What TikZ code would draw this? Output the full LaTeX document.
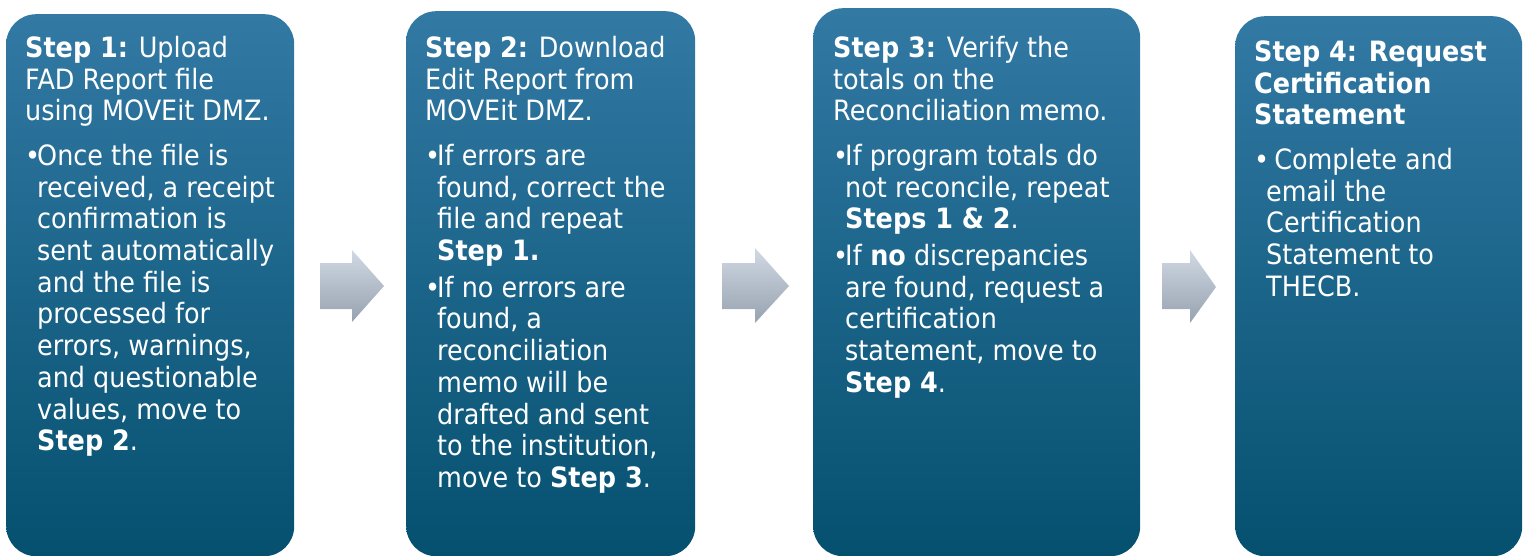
\documentclass[tikz,border=0pt]{standalone}
\usepackage{fontspec}
\setmainfont{DejaVu Sans}[FakeStretch=0.91]
\usetikzlibrary{positioning}
\definecolor{boxtop}{HTML}{3279A4}
\definecolor{boxbot}{HTML}{05506F}
\definecolor{arrtop}{HTML}{D0D9E3}
\definecolor{arrbot}{HTML}{97A2B0}
\newcommand{\contind}{\hspace*{12pt}}
\newcommand{\stepbullet}{\makebox[12pt][l]{•}}

\begin{document}
\begin{tikzpicture}[x=1pt, y=-1pt,
        stepbox/.style = {rounded corners=30pt, top color=boxtop, bottom color=boxbot,
            minimum width=#1, minimum height=542, anchor=north west, inner sep=0pt},
        steptext/.style = {text=white, align=left, anchor=north west, inner sep=0pt,
            font=\fontsize{28}{31.7}\selectfont},
        blockarrow/.style = {top color=arrtop, bottom color=arrbot}
    ]
        \useasboundingbox (0,0) rectangle (1528,556);

        % the four step boxes
        \node[stepbox=288] (box1) at (6,14) {};
        \node[stepbox=289, minimum height=545] (box2) at (406,11) {};
        \node[stepbox=327, minimum height=548] (box3) at (813,8) {};
        \node[stepbox=287, minimum height=540] (box4) at (1235,16) {};

        % arrows between the boxes
        \path[blockarrow] (320,263) -- (352,263) -- (352,250) -- (384,286)
            -- (352,322) -- (352,309) -- (320,309) -- cycle;
        \path[blockarrow] (722,263) -- (755,263) -- (755,248) -- (789,286)
            -- (755,323) -- (755,309) -- (722,309) -- cycle;
        \path[blockarrow] (1162,263) -- (1190,263) -- (1190,250) -- (1216,287)
            -- (1190,323) -- (1190,309) -- (1162,309) -- cycle;

        \node[steptext] (text1) at (25,35) {\strut\textbf{Step 1:} Upload\\
            FAD Report file\\
            using MOVEit DMZ.\\[13pt]
            \stepbullet Once the file is\\
            \contind received, a receipt\\
            \contind confirmation is\\
            \contind sent automatically\\
            \contind and the file is\\
            \contind processed for\\
            \contind errors, warnings,\\
            \contind and questionable\\
            \contind values, move to\\
            \contind\textbf{Step 2}.};

        \node[steptext] (text2) at (425,35) {\strut\textbf{Step 2:} Download\\
            Edit Report from\\
            MOVEit DMZ.\\[13pt]
            \stepbullet If errors are\\
            \contind found, correct the\\
            \contind file and repeat\\
            \contind\textbf{Step 1.}\\[5pt]
            \stepbullet If no errors are\\
            \contind found, a\\
            \contind reconciliation\\
            \contind memo will be\\
            \contind drafted and sent\\
            \contind to the institution,\\
            \contind move to \textbf{Step 3}.};

        \node[steptext] (text3) at (833,35) {\strut\textbf{Step 3:} Verify the\\
            totals on the\\
            Reconciliation memo.\\[13pt]
            \stepbullet If program totals do\\
            \contind not reconcile, repeat\\
            \contind\textbf{Steps 1 \& 2}.\\[5pt]
            \stepbullet If \textbf{no} discrepancies\\
            \contind are found, request a\\
            \contind certification\\
            \contind statement, move to\\
            \contind\textbf{Step 4}.};

        \node[steptext] (text4) at (1254,39) {\strut\textbf{Step 4: Request}\\
            \textbf{Certification}\\
            \textbf{Statement}\\[13pt]
            \stepbullet\ Complete and\\
            \contind email the\\
            \contind Certification\\
            \contind Statement to\\
            \contind THECB.};
    \end{tikzpicture}
\end{document}
